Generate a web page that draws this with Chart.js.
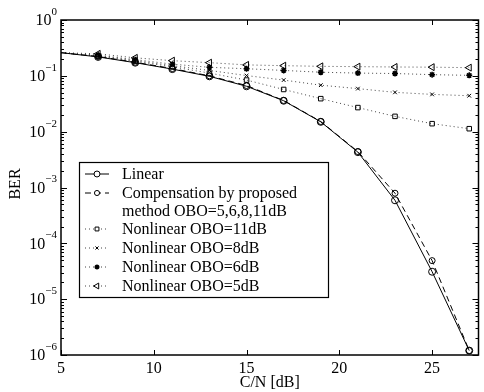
<!DOCTYPE html>
<html>
<head>
<meta charset="utf-8">
<script src="https://cdn.jsdelivr.net/npm/chart.js@4/dist/chart.umd.min.js"></script>
<style>
  body { margin: 0; background: #fff; }
  canvas { display: block; }
</style>
</head>
<body>
<canvas id="ber_chart" width="484" height="392"></canvas>
<script>
const cn = [5, 7, 9, 11, 13, 15, 17, 19, 21, 23, 25, 27];

const berLinear = [0.26, 0.218, 0.172, 0.132, 0.098, 0.065, 0.0358, 0.0150, 0.0043, 5.9e-4, 3.1e-5, 1.2e-6];
const berComp   = [0.26, 0.222, 0.175, 0.135, 0.100, 0.067, 0.0362, 0.0152, 0.0044, 7.9e-4, 4.9e-5, 1.2e-6];
const berObo11  = [0.26, 0.225, 0.182, 0.145, 0.112, 0.084, 0.057, 0.039, 0.027, 0.0188, 0.0139, 0.0113];
const berObo8   = [0.26, 0.228, 0.188, 0.152, 0.125, 0.101, 0.084, 0.068, 0.059, 0.0506, 0.0465, 0.044];
const berObo6   = [0.26, 0.235, 0.195, 0.162, 0.142, 0.134, 0.125, 0.116, 0.112, 0.110, 0.105, 0.102];
const berObo5   = [0.26, 0.248, 0.210, 0.187, 0.172, 0.157, 0.152, 0.148, 0.146, 0.144, 0.143, 0.140];

const xTicks = [5, 10, 15, 20, 25];
const yTicks = [1e-6, 1e-5, 1e-4, 1e-3, 1e-2, 1e-1, 1];

const serif = "'Liberation Serif', 'DejaVu Serif', serif";

function pts(ys) {
  return cn.map((x, i) => ({ x: x, y: ys[i] }));
}
// no marker on the first sample (sits on the axis)
function radii(r) {
  return cn.map((x, i) => (i === 0 ? 0 : r));
}

let datasets = [
  {
    label: 'Linear',
    data: pts(berLinear),
    borderColor: '#000', borderWidth: 1,
    pointStyle: 'circle', pointRadius: radii(3.5), pointBorderColor: '#000',
    pointBackgroundColor: 'rgba(0,0,0,0)', pointBorderWidth: 1
  },
  {
    label: ['Compensation by proposed', 'method OBO=5,6,8,11dB'],
    data: pts(berComp),
    borderColor: '#000', borderWidth: 1, borderDash: [6, 4],
    pointStyle: 'circle', pointRadius: radii(3), pointBorderColor: '#000',
    pointBackgroundColor: 'rgba(0,0,0,0)', pointBorderWidth: 1
  },
  {
    label: 'Nonlinear OBO=11dB',
    data: pts(berObo11),
    borderColor: '#444', borderWidth: 1, borderDash: [1, 3],
    pointStyle: 'rect', pointRadius: radii(3.2), pointBorderColor: '#000',
    pointBackgroundColor: 'rgba(0,0,0,0)', pointBorderWidth: 1
  },
  {
    label: 'Nonlinear OBO=8dB',
    data: pts(berObo8),
    borderColor: '#444', borderWidth: 1, borderDash: [1, 3],
    pointStyle: 'crossRot', pointRadius: radii(2.6), pointBorderColor: '#000',
    pointBackgroundColor: 'rgba(0,0,0,0)', pointBorderWidth: 1
  },
  {
    label: 'Nonlinear OBO=6dB',
    data: pts(berObo6),
    borderColor: '#444', borderWidth: 1, borderDash: [1, 3],
    pointStyle: 'star', pointRadius: radii(3), pointBorderColor: '#000',
    pointBackgroundColor: 'rgba(0,0,0,0)', pointBorderWidth: 1.5
  },
  {
    label: 'Nonlinear OBO=5dB',
    data: pts(berObo5),
    borderColor: '#444', borderWidth: 1, borderDash: [1, 3],
    pointStyle: 'triangle', pointRotation: -90, pointRadius: radii(4), pointBorderColor: '#000',
    pointBackgroundColor: 'rgba(0,0,0,0)', pointBorderWidth: 1
  }
];

// box, inward ticks, y labels with exponents, axis titles, legend
const decorations = {
  id: 'decorations',
  afterDraw(chart) {
    const ctx = chart.ctx;
    const a = chart.chartArea;
    const xs = chart.scales.x;
    const ys = chart.scales.y;
    ctx.save();
    ctx.strokeStyle = '#000';
    ctx.lineWidth = 1;
    ctx.setLineDash([]);

    // ticks
    ctx.beginPath();
    xTicks.forEach(v => {
      let px = Math.round(xs.getPixelForValue(v)) + 0.5;
      ctx.moveTo(px, a.bottom); ctx.lineTo(px, a.bottom - 5);
      ctx.moveTo(px, a.top); ctx.lineTo(px, a.top + 5);
    });
    for (let e = -6; e < 0; e++) {
      for (let k = 2; k <= 9; k++) {
        let py = Math.round(ys.getPixelForValue(k * Math.pow(10, e))) + 0.5;
        ctx.moveTo(a.left, py); ctx.lineTo(a.left + 3, py);
        ctx.moveTo(a.right, py); ctx.lineTo(a.right - 3, py);
      }
    }
    yTicks.forEach(v => {
      let py = Math.round(ys.getPixelForValue(v)) + 0.5;
      ctx.moveTo(a.left, py); ctx.lineTo(a.left + 6, py);
      ctx.moveTo(a.right, py); ctx.lineTo(a.right - 6, py);
    });
    ctx.stroke();

    // axes box
    ctx.lineWidth = 1.5;
    ctx.strokeRect(a.left, a.top, a.right - a.left, a.bottom - a.top);

    // y tick labels 10^n
    ctx.fillStyle = '#000';
    ctx.textBaseline = 'middle';
    yTicks.forEach(v => {
      let py = ys.getPixelForValue(v);
      let ex = String(Math.round(Math.log10(v))).replace('-', '\u2212');
      ctx.font = '11px ' + serif;
      let ew = ctx.measureText(ex).width;
      ctx.textAlign = 'left';
      ctx.fillText(ex, a.left - 4 - ew, py - 8);
      ctx.font = '16px ' + serif;
      ctx.textAlign = 'right';
      ctx.fillText('10', a.left - 4 - ew, py + 1);
    });

    // axis titles
    ctx.font = '16px ' + serif;
    ctx.textAlign = 'center';
    ctx.fillText('C/N [dB]', (a.left + a.right) / 2, 383);
    ctx.save();
    ctx.translate(16, 184);
    ctx.rotate(-Math.PI / 2);
    ctx.fillText('BER', 0, 0);
    ctx.restore();

    // legend
    const lx = 79, ly = 162, lw = 249, lh = 135;
    ctx.fillStyle = '#fff';
    ctx.fillRect(lx, ly, lw, lh);
    ctx.lineWidth = 1.2;
    ctx.strokeStyle = '#000';
    ctx.strokeRect(lx + 0.5, ly + 0.5, lw, lh);
    let rowY = [174, 193, 229, 248, 267, 286];
    let textRows = [[174], [193, 211], [229], [248], [267], [286]];
    datasets.forEach((ds, i) => {
      let y = rowY[i];
      ctx.strokeStyle = ds.borderColor;
      ctx.lineWidth = 1;
      ctx.setLineDash(ds.borderDash || []);
      ctx.beginPath();
      ctx.moveTo(85, y); ctx.lineTo(109, y);
      ctx.stroke();
      ctx.setLineDash([]);
      ctx.strokeStyle = '#000';
      ctx.fillStyle = '#fff';
      ctx.lineWidth = ds.pointBorderWidth;
      Chart.helpers.drawPoint(ctx, {
        pointStyle: ds.pointStyle,
        rotation: ds.pointRotation || 0,
        radius: ds.pointRadius[1] * 0.85,
        borderWidth: ds.pointBorderWidth
      }, 97, y);
      ctx.fillStyle = '#000';
      ctx.font = '16px ' + serif;
      ctx.textAlign = 'left';
      let lines = Array.isArray(ds.label) ? ds.label : [ds.label];
      lines.forEach((t, j) => ctx.fillText(t, 122, textRows[i][j] + 1));
    });
    ctx.restore();
  }
};

let berChart = new Chart(document.getElementById('ber_chart'), {
  type: 'line',
  data: { datasets: datasets },
  options: {
    responsive: false,
    animation: false,
    layout: { padding: { left: 0, right: 1, top: 20, bottom: 0 } },
    plugins: { legend: { display: false }, tooltip: { enabled: false } },
    scales: {
      x: {
        type: 'linear', min: 5, max: 27.5,
        grid: { display: false, drawTicks: false },
        border: { display: false },
        afterBuildTicks: s => { s.ticks = xTicks.map(v => ({ value: v })); },
        afterFit: s => { s.height = 37; },
        ticks: { color: '#000', padding: 4, maxRotation: 0, font: { family: serif, size: 16 } }
      },
      y: {
        type: 'logarithmic', min: 1e-6, max: 1,
        grid: { display: false, drawTicks: false },
        border: { display: false },
        afterBuildTicks: s => { s.ticks = yTicks.map(v => ({ value: v })); },
        afterFit: s => { s.width = 61; },
        ticks: { display: false }
      }
    }
  },
  plugins: [decorations]
});
</script>
</body>
</html>
